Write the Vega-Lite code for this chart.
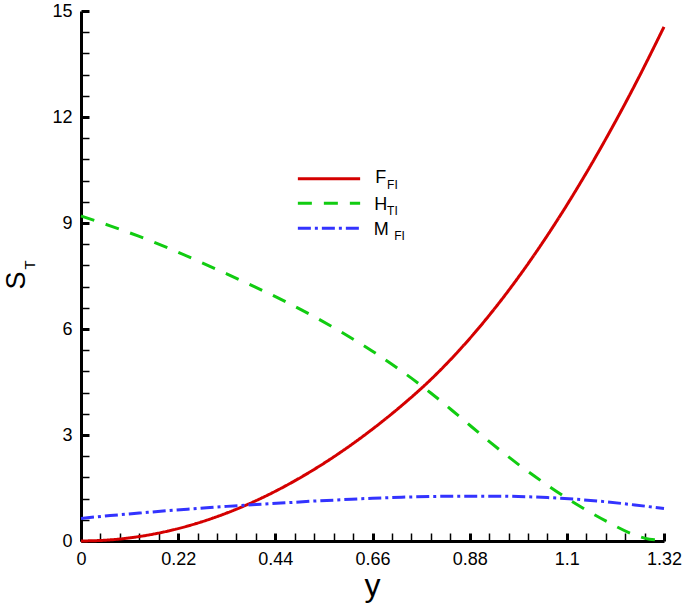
{
  "$schema": "https://vega.github.io/schema/vega-lite/v6.json",
  "autosize": {"type": "none"},
  "padding": {"left": 81, "top": 11, "right": 21, "bottom": 64},
  "width": 583,
  "height": 530,
  "background": "white",
  "config": {"view": {"stroke": null}, "font": "Liberation Sans"},
  "layer": [
    {
      "data": {"values": [
        {"x": 0, "v": 0, "s": "F"}, {"x": 0.066, "v": 0.032, "s": "F"}, {"x": 0.132, "v": 0.127, "s": "F"},
        {"x": 0.198, "v": 0.285, "s": "F"}, {"x": 0.264, "v": 0.507, "s": "F"}, {"x": 0.33, "v": 0.792, "s": "F"},
        {"x": 0.396, "v": 1.14, "s": "F"}, {"x": 0.462, "v": 1.552, "s": "F"}, {"x": 0.528, "v": 2.027, "s": "F"},
        {"x": 0.594, "v": 2.565, "s": "F"}, {"x": 0.66, "v": 3.167, "s": "F"}, {"x": 0.726, "v": 3.832, "s": "F"},
        {"x": 0.792, "v": 4.57, "s": "F"}, {"x": 0.858, "v": 5.42, "s": "F"}, {"x": 0.924, "v": 6.383, "s": "F"},
        {"x": 0.99, "v": 7.459, "s": "F"}, {"x": 1.056, "v": 8.65, "s": "F"}, {"x": 1.122, "v": 9.955, "s": "F"},
        {"x": 1.188, "v": 11.374, "s": "F"}, {"x": 1.254, "v": 12.905, "s": "F"}, {"x": 1.32, "v": 14.551, "s": "F"},
        {"x": 0, "v": 9.2, "s": "H"}, {"x": 0.066, "v": 8.92, "s": "H"}, {"x": 0.132, "v": 8.62, "s": "H"},
        {"x": 0.198, "v": 8.29, "s": "H"}, {"x": 0.264, "v": 7.93, "s": "H"}, {"x": 0.33, "v": 7.56, "s": "H"},
        {"x": 0.396, "v": 7.18, "s": "H"}, {"x": 0.462, "v": 6.78, "s": "H"}, {"x": 0.528, "v": 6.35, "s": "H"},
        {"x": 0.594, "v": 5.88, "s": "H"}, {"x": 0.66, "v": 5.37, "s": "H"}, {"x": 0.726, "v": 4.81, "s": "H"},
        {"x": 0.792, "v": 4.19, "s": "H"}, {"x": 0.858, "v": 3.51, "s": "H"}, {"x": 0.924, "v": 2.82, "s": "H"},
        {"x": 0.99, "v": 2.17, "s": "H"}, {"x": 1.056, "v": 1.58, "s": "H"}, {"x": 1.122, "v": 1.04, "s": "H"},
        {"x": 1.188, "v": 0.57, "s": "H"}, {"x": 1.254, "v": 0.17, "s": "H"}, {"x": 1.287, "v": 0.05, "s": "H"},
        {"x": 1.32, "v": 0.02, "s": "H"},
        {"x": 0, "v": 0.64, "s": "M"}, {"x": 0.066, "v": 0.72, "s": "M"}, {"x": 0.132, "v": 0.79, "s": "M"},
        {"x": 0.198, "v": 0.86, "s": "M"}, {"x": 0.264, "v": 0.92, "s": "M"}, {"x": 0.33, "v": 0.98, "s": "M"},
        {"x": 0.396, "v": 1.03, "s": "M"}, {"x": 0.462, "v": 1.08, "s": "M"}, {"x": 0.528, "v": 1.13, "s": "M"},
        {"x": 0.594, "v": 1.17, "s": "M"}, {"x": 0.66, "v": 1.21, "s": "M"}, {"x": 0.726, "v": 1.24, "s": "M"},
        {"x": 0.792, "v": 1.26, "s": "M"}, {"x": 0.858, "v": 1.27, "s": "M"}, {"x": 0.924, "v": 1.27, "s": "M"},
        {"x": 0.99, "v": 1.26, "s": "M"}, {"x": 1.056, "v": 1.23, "s": "M"}, {"x": 1.122, "v": 1.18, "s": "M"},
        {"x": 1.188, "v": 1.11, "s": "M"}, {"x": 1.254, "v": 1.02, "s": "M"}, {"x": 1.32, "v": 0.92, "s": "M"}
      ]},
      "mark": {"type": "line", "strokeWidth": 3, "interpolate": "monotone"},
      "encoding": {
        "x": {
          "field": "x", "type": "quantitative",
          "scale": {"domain": [0, 1.32], "nice": false, "zero": false},
          "axis": {
            "values": [0, 0.044, 0.088, 0.132, 0.176, 0.22, 0.264, 0.308, 0.352, 0.396, 0.44, 0.484, 0.528, 0.572, 0.616, 0.66, 0.704, 0.748, 0.792, 0.836, 0.88, 0.924, 0.968, 1.012, 1.056, 1.1, 1.144, 1.188, 1.232, 1.276, 1.32],
            "tickCount": 100,
            "labelExpr": "round(datum.value*1000) % 220 === 0 ? toString(round(datum.value*100)/100) : ''",
            "labelOverlap": false, "labelFlush": false,
            "labelFontSize": 18, "labelColor": "black", "labelPadding": 17,
            "tickSize": -8, "tickColor": "black",
            "tickWidth": {"condition": {"test": "round(datum.value*1000) % 220 === 0", "value": 3}, "value": 1.5},
            "domainColor": "black", "domainWidth": 3, "grid": false,
            "title": "y", "titleFontSize": 32, "titleFontWeight": "normal", "titleColor": "black",
            "titleX": 291, "titleY": 54, "titleAlign": "center", "titleBaseline": "alphabetic"
          }
        },
        "y": {
          "field": "v", "type": "quantitative",
          "scale": {"domain": [0, 15], "nice": false, "zero": false},
          "axis": {
            "values": [0, 0.6, 1.2, 1.8, 2.4, 3, 3.6, 4.2, 4.8, 5.4, 6, 6.6, 7.2, 7.8, 8.4, 9, 9.6, 10.2, 10.8, 11.4, 12, 12.6, 13.2, 13.8, 14.4, 15],
            "tickCount": 100,
            "labelExpr": "round(datum.value*10) % 30 === 0 ? toString(round(datum.value)) : ''",
            "labelOverlap": false, "labelFlush": false,
            "labelFontSize": 18, "labelColor": "black", "labelPadding": 17,
            "tickSize": -8, "tickColor": "black",
            "tickWidth": {"condition": {"test": "round(datum.value*10) % 30 === 0", "value": 3}, "value": 1.5},
            "domainColor": "black", "domainWidth": 3, "grid": false,
            "title": "S", "titleFontSize": 27, "titleFontWeight": "normal", "titleColor": "black",
            "titleAngle": 270, "titleX": -57, "titleY": 269, "titleAlign": "center", "titleBaseline": "alphabetic"
          }
        },
        "color": {
          "field": "s", "type": "nominal",
          "scale": {"domain": ["F", "H", "M"], "range": ["#d40000", "#11cc11", "#3333ff"]},
          "legend": null
        },
        "strokeDash": {
          "field": "s", "type": "nominal",
          "scale": {"domain": ["F", "H", "M"], "range": [[1, 0], [14, 12], [13, 4, 3, 4]]},
          "legend": null
        }
      }
    },
    {
      "data": {"values": [{}]},
      "mark": {"type": "text", "text": "T", "fontSize": 15, "angle": 270, "align": "center", "baseline": "alphabetic", "color": "black"},
      "encoding": {"x": {"datum": -0.104}, "y": {"datum": 7.81}}
    },
    {
      "data": {"values": [{}]},
      "mark": {"type": "rule", "color": "#d40000", "strokeWidth": 3},
      "encoding": {"x": {"datum": 0.491}, "x2": {"datum": 0.632}, "y": {"datum": 10.25}}
    },
    {
      "data": {"values": [{}]},
      "mark": {"type": "rule", "color": "#11cc11", "strokeWidth": 3, "strokeDash": [14, 12]},
      "encoding": {"x": {"datum": 0.491}, "x2": {"datum": 0.632}, "y": {"datum": 9.56}}
    },
    {
      "data": {"values": [{}]},
      "mark": {"type": "rule", "color": "#3333ff", "strokeWidth": 3, "strokeDash": [13, 4, 3, 4]},
      "encoding": {"x": {"datum": 0.491}, "x2": {"datum": 0.632}, "y": {"datum": 8.85}}
    },
    {
      "data": {"values": [{}]},
      "mark": {"type": "text", "text": "F", "fontSize": 18, "align": "left", "baseline": "alphabetic", "color": "black"},
      "encoding": {"x": {"datum": 0.666}, "y": {"datum": 10.13}}
    },
    {
      "data": {"values": [{}]},
      "mark": {"type": "text", "text": "FI", "fontSize": 12, "align": "left", "baseline": "alphabetic", "color": "black"},
      "encoding": {"x": {"datum": 0.693}, "y": {"datum": 9.96}}
    },
    {
      "data": {"values": [{}]},
      "mark": {"type": "text", "text": "H", "fontSize": 18, "align": "left", "baseline": "alphabetic", "color": "black"},
      "encoding": {"x": {"datum": 0.664}, "y": {"datum": 9.37}}
    },
    {
      "data": {"values": [{}]},
      "mark": {"type": "text", "text": "TI", "fontSize": 12, "align": "left", "baseline": "alphabetic", "color": "black"},
      "encoding": {"x": {"datum": 0.693}, "y": {"datum": 9.23}}
    },
    {
      "data": {"values": [{}]},
      "mark": {"type": "text", "text": "M", "fontSize": 18, "align": "left", "baseline": "alphabetic", "color": "black"},
      "encoding": {"x": {"datum": 0.663}, "y": {"datum": 8.66}}
    },
    {
      "data": {"values": [{}]},
      "mark": {"type": "text", "text": "FI", "fontSize": 12, "align": "left", "baseline": "alphabetic", "color": "black"},
      "encoding": {"x": {"datum": 0.709}, "y": {"datum": 8.52}}
    }
  ]
}
